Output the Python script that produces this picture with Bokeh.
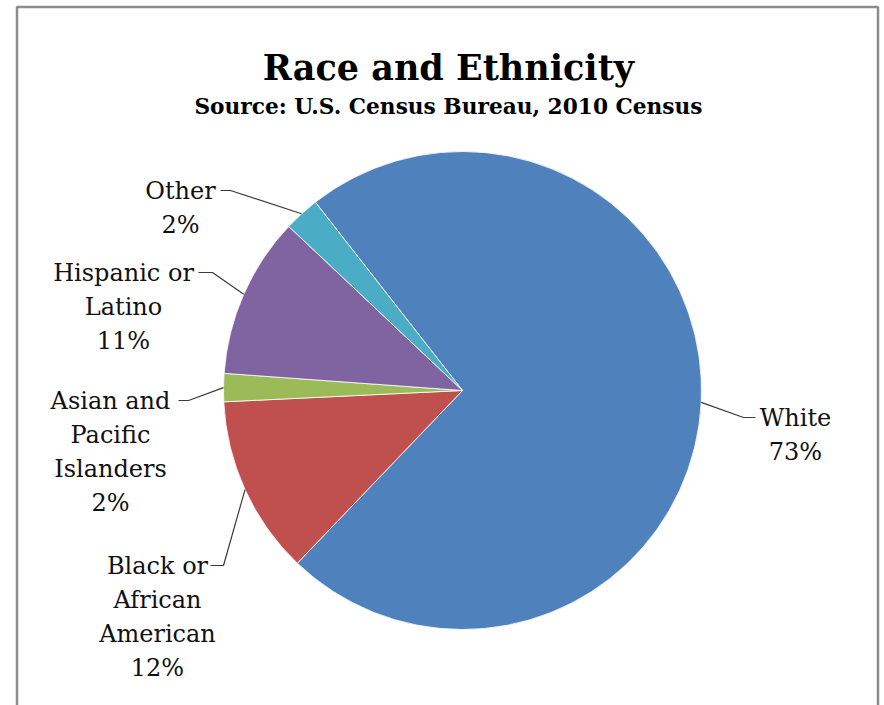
import math
from bokeh.plotting import figure
from bokeh.models import Range1d, ColumnDataSource
from bokeh.embed import file_html
from bokeh.resources import INLINE
from bokeh.core.properties import value

# ---------------- data ----------------
title = "Race and Ethnicity"
subtitle = "Source: U.S. Census Bureau, 2010 Census"
categories = ["White", "Black or\nAfrican\nAmerican", "Asian and\nPacific\nIslanders",
              "Hispanic or\nLatino", "Other"]
shares = [72.7, 12.1, 1.9, 10.9, 2.4]
colors = ["#4F81BD", "#C0504D", "#9BBB59", "#8064A2", "#4BACC6"]

# ---------------- layout (pixel coords, y down) ----------------
W, H = 884, 705
CX, CY, R = 462, 390, 239
FIRST_ANGLE = 322  # degrees clockwise from 12 o'clock where the first slice begins
# (label centre x, first baseline y, elbow x, leader end x)
label_layout = [
    (795, 417, 743, 755),
    (157, 565, 223, 210),
    (110, 400, 188, 178),
    (123, 272, 212, 198),
    (180, 190, 230, 220),
]
LINE_H = 34
FONT = "DejaVu Serif"


def Y(py):
    return H - py


p = figure(width=W, height=H, x_range=Range1d(0, W), y_range=Range1d(0, H),
           output_backend="svg", toolbar_location=None,
           x_axis_location=None, y_axis_location=None, min_border=0)
p.xgrid.visible = False
p.ygrid.visible = False
p.outline_line_color = None
p.background_fill_color = "white"
p.border_fill_color = "white"

# border frame
p.line([16.5, 16.5, 877.5, 877.5], [Y(720), Y(6.5), Y(6.5), Y(720)],
       line_color="#8c8c8c", line_width=2.5)

# wedges
total = sum(shares)
n = len(shares)
starts, ends, mids = [], [], []
cum = 0.0
for s in shares:
    th_s = FIRST_ANGLE + cum / total * 360.0
    th_e = th_s + s / total * 360.0
    cum += s
    starts.append(math.radians(90 - th_e))
    ends.append(math.radians(90 - th_s))
    mids.append(math.radians((th_s + th_e) / 2))

src = ColumnDataSource(dict(x=[CX] * n, y=[Y(CY)] * n, start=starts, end=ends,
                            color=colors, name=categories))
p.wedge(x="x", y="y", radius=R, start_angle="start", end_angle="end",
        fill_color="color", line_color="white", line_width=0.8, source=src)

# leader lines and labels
xs, ys = [], []
for i in range(n):
    cx, by, elx, endx = label_layout[i]
    ex = CX + R * math.sin(mids[i])
    ey = CY - R * math.cos(mids[i])
    xs.append([ex, elx, endx])
    ys.append([Y(ey), Y(by), Y(by)])
    lines = categories[i].split("\n") + [f"{round(shares[i])}%"]
    for j, t in enumerate(lines):
        p.text(x=[cx], y=[Y(by + j * LINE_H)], text=[t], text_align="center",
               text_baseline="alphabetic", text_font=value(FONT),
               text_font_size="24px", text_color="#111111")
p.multi_line(xs, ys, line_color="#3a3a3a", line_width=1.2)

# titles
p.text(x=[448], y=[Y(67)], text=[title], text_align="center", text_baseline="alphabetic",
       text_font=value(FONT), text_font_size="35px", text_font_style="bold", text_color="#000000")
p.text(x=[448], y=[Y(106)], text=[subtitle], text_align="center", text_baseline="alphabetic",
       text_font=value(FONT), text_font_size="21.7px", text_font_style="bold", text_color="#000000")

open("out.html", "w").write(file_html(p, INLINE))
